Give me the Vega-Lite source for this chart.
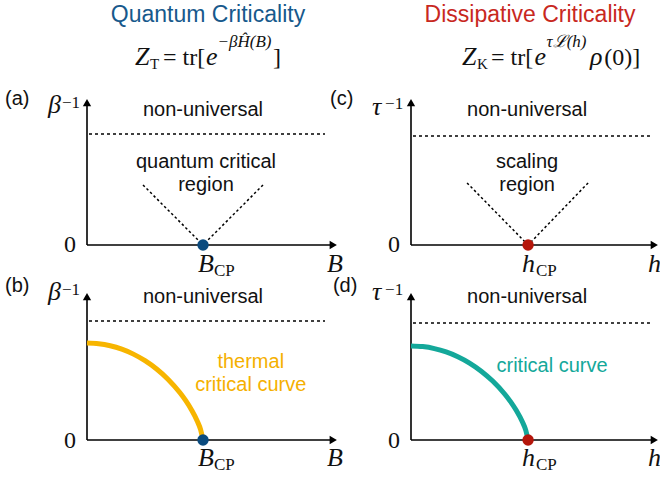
{
  "$schema": "https://vega.github.io/schema/vega-lite/v6.json",
  "background": "white",
  "padding": {"left": 5, "top": 4, "right": 0, "bottom": 0},
  "config": {"view": {"stroke": null}},
  "columns": 2,
  "spacing": {"row": 48, "column": 74},
  "bounds": "flush",
  "resolve": {"scale": {"x": "independent", "y": "independent"}},
  "concat": [
    {
      "width": 250, "height": 146,
      "encoding": {
        "x": {"field": "x", "type": "quantitative", "scale": {"domain": [0, 1], "nice": false, "zero": false}, "axis": null},
        "y": {"field": "y", "type": "quantitative", "scale": {"domain": [0, 1], "nice": false, "zero": false}, "axis": null}
      },
      "layer": [
        {"data": {"values": [{"x": 0, "y": 0, "x2": 0.985, "y2": 0}, {"x": 0, "y": 0, "x2": 0, "y2": 0.975}]}, "mark": {"type": "rule", "color": "#000", "strokeWidth": 1.6}, "encoding": {"x2": {"field": "x2"}, "y2": {"field": "y2"}}},
        {"data": {"values": [{"x": 0.985, "y": 0}]}, "mark": {"type": "point", "shape": "triangle-right", "filled": true, "color": "#000", "size": 70, "opacity": 1}},
        {"data": {"values": [{"x": 0, "y": 0.975}]}, "mark": {"type": "point", "shape": "triangle-up", "filled": true, "color": "#000", "size": 70, "opacity": 1}},
        {"data": {"values": [{"x": 0.008, "y": 0.76, "x2": 0.952}]}, "mark": {"type": "rule", "color": "#000", "strokeWidth": 1.5, "strokeDash": [3, 3]}, "encoding": {"x2": {"field": "x2"}}},
        {"data": {"values": [{"x": 0.224, "y": 0.411, "x2": 0.464, "y2": 0}, {"x": 0.704, "y": 0.411, "x2": 0.464, "y2": 0}]}, "mark": {"type": "rule", "color": "#000", "strokeWidth": 1.5, "strokeDash": [2.5, 2.5]}, "encoding": {"x2": {"field": "x2"}, "y2": {"field": "y2"}}},
        {"data": {"values": [{"x": 0.464, "y": 0}]}, "mark": {"type": "circle", "color": "#0B4B7E", "size": 130, "opacity": 1}},
        {"data": {"values": [{"x": 0.464, "y": 0.884, "t": "non-universal"}, {"x": 0.476, "y": 0.527, "t": "quantum critical"}, {"x": 0.476, "y": 0.37, "t": "region"}]}, "mark": {"type": "text", "font": "Liberation Sans", "fontSize": 20, "align": "center", "baseline": "alphabetic", "color": "#111"}, "encoding": {"text": {"field": "t"}}},
        {"data": {"values": [{"x": -0.328, "y": 0.959, "t": "(a)"}]}, "mark": {"type": "text", "font": "Liberation Sans", "fontSize": 20, "align": "left", "baseline": "alphabetic", "color": "#111"}, "encoding": {"text": {"field": "t"}}},
        {"data": {"values": [{"x": -0.156, "y": 0.904, "t": "β"}, {"x": 0.444, "y": -0.185, "t": "B"}, {"x": 0.96, "y": -0.185, "t": "B"}, {"x": 0.192, "y": 1.233, "t": "Z"}, {"x": 0.476, "y": 1.233, "t": "e"}]}, "mark": {"type": "text", "font": "Liberation Serif", "fontSize": 26, "fontStyle": "italic", "align": "left", "baseline": "alphabetic", "color": "#111"}, "encoding": {"text": {"field": "t"}}},
        {"data": {"values": [{"x": 0.304, "y": 1.233, "t": "= tr["}, {"x": 0.744, "y": 1.233, "t": "]"}]}, "mark": {"type": "text", "font": "Liberation Serif", "fontSize": 24, "align": "left", "baseline": "alphabetic", "color": "#111"}, "encoding": {"text": {"field": "t"}}},
        {"data": {"values": [{"x": -0.1, "y": 0.938, "t": "−1"}, {"x": 0.508, "y": -0.212, "t": "CP"}]}, "mark": {"type": "text", "font": "Liberation Serif", "fontSize": 17, "align": "left", "baseline": "alphabetic", "color": "#111"}, "encoding": {"text": {"field": "t"}}},
        {"data": {"values": [{"x": 0.252, "y": 1.205, "t": "T"}]}, "mark": {"type": "text", "font": "Liberation Serif", "fontSize": 15, "align": "left", "baseline": "alphabetic", "color": "#111"}, "encoding": {"text": {"field": "t"}}},
        {"data": {"values": [{"x": 0.522, "y": 1.358, "t": "−βĤ(B)"}]}, "mark": {"type": "text", "font": "Liberation Serif", "fontSize": 17, "fontStyle": "italic", "align": "left", "baseline": "alphabetic", "color": "#111"}, "encoding": {"text": {"field": "t"}}},
        {"data": {"values": [{"x": -0.044, "y": -0.048, "t": "0"}]}, "mark": {"type": "text", "font": "Liberation Serif", "fontSize": 24, "align": "right", "baseline": "alphabetic", "color": "#111"}, "encoding": {"text": {"field": "t"}}},
        {"data": {"values": [{"x": 0.484, "y": 1.527, "t": "Quantum Criticality"}]}, "mark": {"type": "text", "font": "Liberation Sans", "fontSize": 23, "align": "center", "baseline": "alphabetic", "color": "#17598C"}, "encoding": {"text": {"field": "t"}}}
      ]
    },
    {
      "width": 247, "height": 146,
      "encoding": {
        "x": {"field": "x", "type": "quantitative", "scale": {"domain": [0, 1], "nice": false, "zero": false}, "axis": null},
        "y": {"field": "y", "type": "quantitative", "scale": {"domain": [0, 1], "nice": false, "zero": false}, "axis": null}
      },
      "layer": [
        {"data": {"values": [{"x": 0, "y": 0, "x2": 0.985, "y2": 0}, {"x": 0, "y": 0, "x2": 0, "y2": 0.975}]}, "mark": {"type": "rule", "color": "#000", "strokeWidth": 1.6}, "encoding": {"x2": {"field": "x2"}, "y2": {"field": "y2"}}},
        {"data": {"values": [{"x": 0.985, "y": 0}]}, "mark": {"type": "point", "shape": "triangle-right", "filled": true, "color": "#000", "size": 70, "opacity": 1}},
        {"data": {"values": [{"x": 0, "y": 0.975}]}, "mark": {"type": "point", "shape": "triangle-up", "filled": true, "color": "#000", "size": 70, "opacity": 1}},
        {"data": {"values": [{"x": 0.008, "y": 0.747, "x2": 0.968}]}, "mark": {"type": "rule", "color": "#000", "strokeWidth": 1.5, "strokeDash": [3, 3]}, "encoding": {"x2": {"field": "x2"}}},
        {"data": {"values": [{"x": 0.227, "y": 0.425, "x2": 0.474, "y2": 0}, {"x": 0.717, "y": 0.425, "x2": 0.474, "y2": 0}]}, "mark": {"type": "rule", "color": "#000", "strokeWidth": 1.5, "strokeDash": [2.5, 2.5]}, "encoding": {"x2": {"field": "x2"}, "y2": {"field": "y2"}}},
        {"data": {"values": [{"x": 0.474, "y": 0}]}, "mark": {"type": "circle", "color": "#B5160B", "size": 130, "opacity": 1}},
        {"data": {"values": [{"x": 0.47, "y": 0.884, "t": "non-universal"}, {"x": 0.47, "y": 0.527, "t": "scaling"}, {"x": 0.47, "y": 0.37, "t": "region"}]}, "mark": {"type": "text", "font": "Liberation Sans", "fontSize": 20, "align": "center", "baseline": "alphabetic", "color": "#111"}, "encoding": {"text": {"field": "t"}}},
        {"data": {"values": [{"x": -0.328, "y": 0.959, "t": "(c)"}]}, "mark": {"type": "text", "font": "Liberation Sans", "fontSize": 20, "align": "left", "baseline": "alphabetic", "color": "#111"}, "encoding": {"text": {"field": "t"}}},
        {"data": {"values": [{"x": -0.158, "y": 0.89, "t": "τ"}, {"x": 0.449, "y": -0.185, "t": "h"}, {"x": 0.96, "y": -0.185, "t": "h"}, {"x": 0.206, "y": 1.233, "t": "Z"}, {"x": 0.5, "y": 1.233, "t": "e"}, {"x": 0.725, "y": 1.233, "t": "ρ"}]}, "mark": {"type": "text", "font": "Liberation Serif", "fontSize": 26, "fontStyle": "italic", "align": "left", "baseline": "alphabetic", "color": "#111"}, "encoding": {"text": {"field": "t"}}},
        {"data": {"values": [{"x": 0.324, "y": 1.233, "t": "= tr["}, {"x": 0.782, "y": 1.233, "t": "(0)]"}]}, "mark": {"type": "text", "font": "Liberation Serif", "fontSize": 24, "align": "left", "baseline": "alphabetic", "color": "#111"}, "encoding": {"text": {"field": "t"}}},
        {"data": {"values": [{"x": -0.105, "y": 0.93, "t": "−1"}, {"x": 0.506, "y": -0.212, "t": "CP"}]}, "mark": {"type": "text", "font": "Liberation Serif", "fontSize": 17, "align": "left", "baseline": "alphabetic", "color": "#111"}, "encoding": {"text": {"field": "t"}}},
        {"data": {"values": [{"x": 0.267, "y": 1.205, "t": "K"}]}, "mark": {"type": "text", "font": "Liberation Serif", "fontSize": 15, "align": "left", "baseline": "alphabetic", "color": "#111"}, "encoding": {"text": {"field": "t"}}},
        {"data": {"values": [{"x": 0.549, "y": 1.358, "t": "τℒ(h)"}]}, "mark": {"type": "text", "font": "Liberation Serif", "fontSize": 17, "fontStyle": "italic", "align": "left", "baseline": "alphabetic", "color": "#111"}, "encoding": {"text": {"field": "t"}}},
        {"data": {"values": [{"x": -0.045, "y": -0.048, "t": "0"}]}, "mark": {"type": "text", "font": "Liberation Serif", "fontSize": 24, "align": "right", "baseline": "alphabetic", "color": "#111"}, "encoding": {"text": {"field": "t"}}},
        {"data": {"values": [{"x": 0.482, "y": 1.527, "t": "Dissipative Criticality"}]}, "mark": {"type": "text", "font": "Liberation Sans", "fontSize": 23, "align": "center", "baseline": "alphabetic", "color": "#C8281E"}, "encoding": {"text": {"field": "t"}}}
      ]
    },
    {
      "width": 250, "height": 147,
      "encoding": {
        "x": {"field": "x", "type": "quantitative", "scale": {"domain": [0, 1], "nice": false, "zero": false}, "axis": null},
        "y": {"field": "y", "type": "quantitative", "scale": {"domain": [0, 1], "nice": false, "zero": false}, "axis": null}
      },
      "layer": [
        {"data": {"values": [{"x": 0, "y": 0, "x2": 0.985, "y2": 0}, {"x": 0, "y": 0, "x2": 0, "y2": 0.975}]}, "mark": {"type": "rule", "color": "#000", "strokeWidth": 1.6}, "encoding": {"x2": {"field": "x2"}, "y2": {"field": "y2"}}},
        {"data": {"values": [{"x": 0.985, "y": 0}]}, "mark": {"type": "point", "shape": "triangle-right", "filled": true, "color": "#000", "size": 70, "opacity": 1}},
        {"data": {"values": [{"x": 0, "y": 0.975}]}, "mark": {"type": "point", "shape": "triangle-up", "filled": true, "color": "#000", "size": 70, "opacity": 1}},
        {"data": {"values": [{"x": 0.008, "y": 0.81, "x2": 0.952}]}, "mark": {"type": "rule", "color": "#000", "strokeWidth": 1.5, "strokeDash": [3, 3]}, "encoding": {"x2": {"field": "x2"}}},
        {"data": {"values": [{"x": 0, "y": 0.66}, {"x": 0.0464, "y": 0.6554}, {"x": 0.0928, "y": 0.6414}, {"x": 0.1392, "y": 0.6178}, {"x": 0.1856, "y": 0.5842}, {"x": 0.232, "y": 0.5396}, {"x": 0.2784, "y": 0.4829}, {"x": 0.3248, "y": 0.412}, {"x": 0.3712, "y": 0.3228}, {"x": 0.3944, "y": 0.2691}, {"x": 0.4176, "y": 0.2064}, {"x": 0.4408, "y": 0.1294}, {"x": 0.4547, "y": 0.0688}, {"x": 0.464, "y": 0}]}, "mark": {"type": "line", "color": "#F7B500", "strokeWidth": 5, "interpolate": "monotone"}},
        {"data": {"values": [{"x": 0.464, "y": 0}]}, "mark": {"type": "circle", "color": "#0B4B7E", "size": 130, "opacity": 1}},
        {"data": {"values": [{"x": 0.464, "y": 0.932, "t": "non-universal"}]}, "mark": {"type": "text", "font": "Liberation Sans", "fontSize": 20, "align": "center", "baseline": "alphabetic", "color": "#111"}, "encoding": {"text": {"field": "t"}}},
        {"data": {"values": [{"x": 0.655, "y": 0.49, "t": "thermal"}, {"x": 0.655, "y": 0.333, "t": "critical curve"}]}, "mark": {"type": "text", "font": "Liberation Sans", "fontSize": 20, "align": "center", "baseline": "alphabetic", "color": "#F5B000"}, "encoding": {"text": {"field": "t"}}},
        {"data": {"values": [{"x": -0.328, "y": 1.007, "t": "(b)"}]}, "mark": {"type": "text", "font": "Liberation Sans", "fontSize": 20, "align": "left", "baseline": "alphabetic", "color": "#111"}, "encoding": {"text": {"field": "t"}}},
        {"data": {"values": [{"x": -0.156, "y": 0.952, "t": "β"}, {"x": 0.444, "y": -0.177, "t": "B"}, {"x": 0.96, "y": -0.177, "t": "B"}]}, "mark": {"type": "text", "font": "Liberation Serif", "fontSize": 26, "fontStyle": "italic", "align": "left", "baseline": "alphabetic", "color": "#111"}, "encoding": {"text": {"field": "t"}}},
        {"data": {"values": [{"x": -0.1, "y": 0.986, "t": "−1"}, {"x": 0.508, "y": -0.204, "t": "CP"}]}, "mark": {"type": "text", "font": "Liberation Serif", "fontSize": 17, "align": "left", "baseline": "alphabetic", "color": "#111"}, "encoding": {"text": {"field": "t"}}},
        {"data": {"values": [{"x": -0.044, "y": -0.054, "t": "0"}]}, "mark": {"type": "text", "font": "Liberation Serif", "fontSize": 24, "align": "right", "baseline": "alphabetic", "color": "#111"}, "encoding": {"text": {"field": "t"}}}
      ]
    },
    {
      "width": 247, "height": 147,
      "encoding": {
        "x": {"field": "x", "type": "quantitative", "scale": {"domain": [0, 1], "nice": false, "zero": false}, "axis": null},
        "y": {"field": "y", "type": "quantitative", "scale": {"domain": [0, 1], "nice": false, "zero": false}, "axis": null}
      },
      "layer": [
        {"data": {"values": [{"x": 0, "y": 0, "x2": 0.985, "y2": 0}, {"x": 0, "y": 0, "x2": 0, "y2": 0.975}]}, "mark": {"type": "rule", "color": "#000", "strokeWidth": 1.6}, "encoding": {"x2": {"field": "x2"}, "y2": {"field": "y2"}}},
        {"data": {"values": [{"x": 0.985, "y": 0}]}, "mark": {"type": "point", "shape": "triangle-right", "filled": true, "color": "#000", "size": 70, "opacity": 1}},
        {"data": {"values": [{"x": 0, "y": 0.975}]}, "mark": {"type": "point", "shape": "triangle-up", "filled": true, "color": "#000", "size": 70, "opacity": 1}},
        {"data": {"values": [{"x": 0.008, "y": 0.796, "x2": 0.968}]}, "mark": {"type": "rule", "color": "#000", "strokeWidth": 1.5, "strokeDash": [3, 3]}, "encoding": {"x2": {"field": "x2"}}},
        {"data": {"values": [{"x": 0, "y": 0.64}, {"x": 0.0474, "y": 0.6355}, {"x": 0.0948, "y": 0.622}, {"x": 0.1422, "y": 0.5991}, {"x": 0.1896, "y": 0.5665}, {"x": 0.237, "y": 0.5233}, {"x": 0.2844, "y": 0.4683}, {"x": 0.3318, "y": 0.3995}, {"x": 0.3792, "y": 0.313}, {"x": 0.4029, "y": 0.2609}, {"x": 0.4266, "y": 0.2001}, {"x": 0.4503, "y": 0.1254}, {"x": 0.4645, "y": 0.0668}, {"x": 0.474, "y": 0}]}, "mark": {"type": "line", "color": "#14A89A", "strokeWidth": 5, "interpolate": "monotone"}},
        {"data": {"values": [{"x": 0.474, "y": 0}]}, "mark": {"type": "circle", "color": "#B5160B", "size": 130, "opacity": 1}},
        {"data": {"values": [{"x": 0.47, "y": 0.932, "t": "non-universal"}]}, "mark": {"type": "text", "font": "Liberation Sans", "fontSize": 20, "align": "center", "baseline": "alphabetic", "color": "#111"}, "encoding": {"text": {"field": "t"}}},
        {"data": {"values": [{"x": 0.571, "y": 0.463, "t": "critical curve"}]}, "mark": {"type": "text", "font": "Liberation Sans", "fontSize": 20, "align": "center", "baseline": "alphabetic", "color": "#14A89A"}, "encoding": {"text": {"field": "t"}}},
        {"data": {"values": [{"x": -0.316, "y": 1.007, "t": "(d)"}]}, "mark": {"type": "text", "font": "Liberation Sans", "fontSize": 20, "align": "left", "baseline": "alphabetic", "color": "#111"}, "encoding": {"text": {"field": "t"}}},
        {"data": {"values": [{"x": -0.158, "y": 0.952, "t": "τ"}, {"x": 0.449, "y": -0.177, "t": "h"}, {"x": 0.96, "y": -0.177, "t": "h"}]}, "mark": {"type": "text", "font": "Liberation Serif", "fontSize": 26, "fontStyle": "italic", "align": "left", "baseline": "alphabetic", "color": "#111"}, "encoding": {"text": {"field": "t"}}},
        {"data": {"values": [{"x": -0.105, "y": 0.986, "t": "−1"}, {"x": 0.506, "y": -0.204, "t": "CP"}]}, "mark": {"type": "text", "font": "Liberation Serif", "fontSize": 17, "align": "left", "baseline": "alphabetic", "color": "#111"}, "encoding": {"text": {"field": "t"}}},
        {"data": {"values": [{"x": -0.045, "y": -0.054, "t": "0"}]}, "mark": {"type": "text", "font": "Liberation Serif", "fontSize": 24, "align": "right", "baseline": "alphabetic", "color": "#111"}, "encoding": {"text": {"field": "t"}}}
      ]
    }
  ]
}
